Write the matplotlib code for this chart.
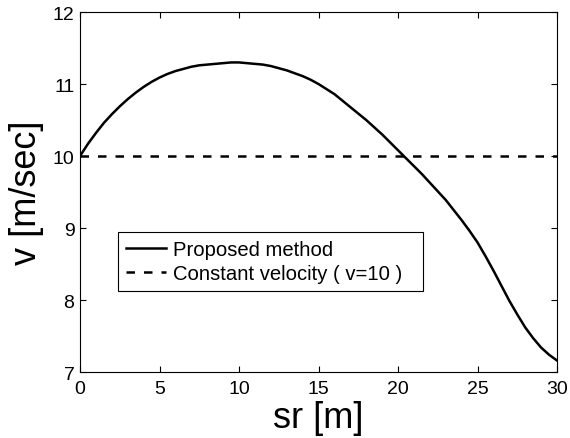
import numpy as np
import matplotlib
matplotlib.use('Agg')
import matplotlib.pyplot as plt

# distance along path [m] and velocity (every 0.5 m)
sr = [0, 0.5, 1, 1.5, 2, 2.5, 3, 3.5, 4, 4.5, 5, 5.5, 6, 6.5, 7, 7.5, 8, 8.5, 9, 9.5,
      10, 10.5, 11, 11.5, 12, 12.5, 13, 13.5, 14, 14.5, 15, 15.5, 16, 16.5, 17, 17.5,
      18, 18.5, 19, 19.5, 20, 20.5, 21, 21.5, 22, 22.5, 23, 23.5, 24, 24.5, 25, 25.5,
      26, 26.5, 27, 27.5, 28, 28.5, 29, 29.5, 30]
v_proposed = [10.00, 10.17, 10.32, 10.46, 10.58, 10.69, 10.79, 10.88, 10.96, 11.03,
              11.09, 11.14, 11.18, 11.21, 11.24, 11.26, 11.27, 11.28, 11.29, 11.30,
              11.30, 11.29, 11.28, 11.27, 11.25, 11.22, 11.19, 11.15, 11.11, 11.06,
              11.00, 10.93, 10.86, 10.77, 10.68, 10.59, 10.50, 10.40, 10.30, 10.19,
              10.08, 9.97, 9.86, 9.75, 9.63, 9.51, 9.39, 9.25, 9.11, 8.96,
              8.80, 8.61, 8.41, 8.20, 7.99, 7.80, 7.62, 7.47, 7.34, 7.24, 7.16]
sr_const = [0, 30]
v_const = [10, 10]

x_ticks = [0, 5, 10, 15, 20, 25, 30]
y_ticks = [7, 8, 9, 10, 11, 12]

plt.rcParams['font.family'] = ['Liberation Sans', 'DejaVu Sans']

fig = plt.figure(figsize=(5.7, 4.39), dpi=100)
ax = fig.add_axes([0.1404, 0.1503, 0.8368, 0.8200])

ax.plot(sr, v_proposed, color='black', linewidth=1.8, label='Proposed method')
ax.plot(sr_const, v_const, color='black', linewidth=1.8, linestyle=(0, (3.4, 3.6)),
        label='Constant velocity ( v=10 )')

ax.set_xlim(0, 30)
ax.set_ylim(7, 12)
ax.set_xticks(x_ticks)
ax.set_yticks(y_ticks)

# matlab style box with inward ticks
ax.tick_params(direction='in', top=True, right=True, length=4, width=0.8, labelsize=14)
ax.tick_params(axis='x', pad=6)
ax.tick_params(axis='y', pad=4)
for s in ax.spines.values():
    s.set_linewidth(0.8)
    s.set_color('black')

ax.set_xlabel('sr [m]', fontsize=26, labelpad=2)
ax.set_ylabel('v [m/sec]', fontsize=26, labelpad=6)

leg = ax.legend(loc='lower left', bbox_to_anchor=(0.0797, 0.225, 0.6394, 0.167),
                mode='expand', borderaxespad=0, fontsize=14.6, fancybox=False,
                edgecolor='black', framealpha=1, handlelength=2.0, handletextpad=0.35,
                borderpad=0.38, labelspacing=0.28)
leg.get_frame().set_linewidth(0.8)

fig.savefig('out.png', dpi=100)
